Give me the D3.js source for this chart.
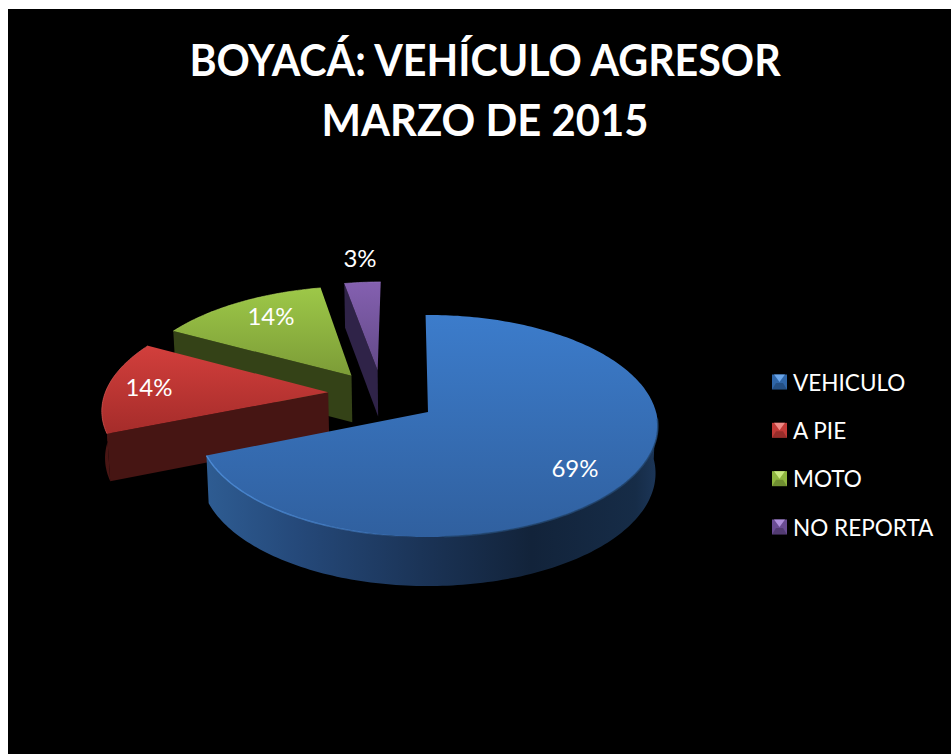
<!DOCTYPE html>
<html><head><meta charset="utf-8">
<script src="https://cdn.jsdelivr.net/npm/d3@7/dist/d3.min.js"></script>
<style>html,body{margin:0;padding:0;background:#fff;overflow:hidden}svg{display:block}text{font-family:Lato,Carlito,"Open Sans",sans-serif}</style>
</head><body><div id="c"></div>
<script>
const titleLines = ["BOYACÁ: VEHÍCULO AGRESOR", "MARZO DE 2015"];
const categories = ["VEHICULO", "A PIE", "MOTO", "NO REPORTA"];
const shares = [69, 14, 14, 3];
const labels = ["69%", "14%", "14%", "3%"];

const W = 951, H = 754;
const colorTop = [["#3c7ccb","#30609f"],["#d23f3c","#a52c2a"],["#9dc848","#7c9c37"],["#8460b0","#634a88"]];
const sideStops = [
  [["#2e5c92",0],["#25497a",.2],["#1a3254",.5],["#12233a",.72],["#162c47",.95],["#1c3658",1]],
  [["#7a2624",0],["#4a1614",.05],["#471412",.5],["#3f1110",1]],
  [["#3a4a1a",0],["#333f16",1]],
  [["#38285a",0],["#2c2048",1]]
];
const faceColor = ["#1a3254","#461513","#344217","#2f2348"];
const highlight = ["#4f8fdc","#e0605c","#b4d860","#9a7cc6"];
// world-space explosion of each slice on the pie plane
const explodeX = [0, -0.448, -0.35, -0.232];
const explodeY = [0, 0.185, 0.345, 0.40];
const labelPos = [[575,477],[149,396],[271,325],[360,267]];

const cx = 428, cy = 412, ax = 228, by = 109.3, k = 0.126, depth = 47;
function project(X, Y, z) {
  const w = 1 + k * Y;
  let x = ax * X / w, y = -by * Y / w;
  if (z) { x *= 0.99; y += depth - 2 * Y; }
  return [cx + x, cy + y];
}
const pie = d3.pie().sort(null).value(d => d).startAngle(-0.012).endAngle(2 * Math.PI - 0.012);
const arcs = pie(shares);
const line = d3.line().curve(d3.curveLinear);
function rim(i, a0, a1, z) {
  const n = Math.max(2, Math.ceil(Math.abs(a1 - a0) / 0.02));
  return d3.range(n + 1).map(j => {
    const t = a0 + (a1 - a0) * j / n;
    return project(Math.sin(t) + explodeX[i], Math.cos(t) + explodeY[i], z);
  });
}
const apex = (i, z) => project(explodeX[i], explodeY[i], z);

const svg = d3.select("#c").append("svg").attr("width", W).attr("height", H);
const defs = svg.append("defs");
svg.append("rect").attr("x", 8).attr("y", 9).attr("width", W - 8).attr("height", H - 9).attr("fill", "#000");

arcs.forEach((a, i) => {
  const pts = rim(i, a.startAngle, a.endAngle, false);
  const ys = pts.map(p => p[1]).concat(apex(i, false)[1]);
  const g = defs.append("linearGradient").attr("id", "top" + i).attr("gradientUnits", "userSpaceOnUse")
    .attr("x1", 0).attr("x2", 0).attr("y1", d3.min(ys)).attr("y2", d3.max(ys));
  g.append("stop").attr("offset", 0).attr("stop-color", colorTop[i][0]);
  g.append("stop").attr("offset", 1).attr("stop-color", colorTop[i][1]);
  const xs = pts.map(p => p[0]);
  const s = defs.append("linearGradient").attr("id", "side" + i).attr("gradientUnits", "userSpaceOnUse")
    .attr("x1", d3.min(xs)).attr("x2", d3.max(xs)).attr("y1", 0).attr("y2", 0);
  sideStops[i].forEach(st => s.append("stop").attr("offset", st[1]).attr("stop-color", st[0]));
});
const blur = defs.append("filter").attr("id", "soft");
blur.append("feGaussianBlur").attr("stdDeviation", 0.7);
const hl = defs.append("linearGradient").attr("id", "hl").attr("gradientUnits", "userSpaceOnUse")
  .attr("x1", 210).attr("x2", 420).attr("y1", 0).attr("y2", 0);
hl.append("stop").attr("offset", 0).attr("stop-color", highlight[0]).attr("stop-opacity", .9);
hl.append("stop").attr("offset", .6).attr("stop-color", highlight[0]).attr("stop-opacity", .6);
hl.append("stop").attr("offset", 1).attr("stop-color", highlight[0]).attr("stop-opacity", 0);

// back to front
d3.range(arcs.length).reverse().forEach(i => {
  const a = arcs[i], g = svg.append("g");
  const t = rim(i, a.startAngle, a.endAngle, false);
  if (i > 0) {
    g.append("path").attr("fill", faceColor[i])
      .attr("d", line([apex(i,false), t[0], rim(i,a.startAngle,a.startAngle+0.001,true)[0], apex(i,true)]) + "Z");
  }
  const lo = Math.max(a.startAngle, Math.PI / 2), hi = Math.min(a.endAngle, 3 * Math.PI / 2 + 0.15);
  if (hi > lo) {
    const up = rim(i, lo, hi, false), dn = rim(i, lo, hi, true).reverse();
    g.append("path").attr("fill", `url(#side${i})`).attr("d", line(up.concat(dn)) + "Z");
  }
  g.append("path").attr("fill", `url(#top${i})`).attr("d", line([apex(i,false)].concat(t)) + "Z");
  if (i === 0) {
    g.append("path").attr("fill","none").attr("stroke", "url(#hl)").attr("stroke-width",1.4).attr("filter","url(#soft)")
      .attr("d", line(rim(0, Math.PI * 0.98, a.endAngle, false)));
    g.append("path").attr("fill","none").attr("stroke", "#24466f").attr("stroke-width",1.6).attr("filter","url(#soft)").attr("opacity",.8)
      .attr("d", line(rim(0, Math.PI * 0.52, Math.PI * 0.98, false)));
  } else {
    g.append("path").attr("fill","none").attr("stroke", highlight[i]).attr("stroke-width",1).attr("filter","url(#soft)").attr("opacity",.6)
      .attr("d", line(t));
  }
});

labels.forEach((l, i) => {
  svg.append("text").attr("x", labelPos[i][0]).attr("y", labelPos[i][1]).attr("text-anchor","middle")
    .attr("font-size", 24).attr("fill", "#fff").text(l);
});

const titleScale = [0.936, 0.95];
titleLines.forEach((l, i) => {
  svg.append("text").attr("transform", `translate(485,${76 + i * 59.5}) scale(${titleScale[i]},1)`).attr("text-anchor","middle")
    .attr("font-size", 44).attr("font-weight", 700).attr("fill", "#fff").text(l);
});

// legend
const legY = d3.scalePoint().domain(categories).range([382, 527]);
const swatchFill = ["#2f66a8","#c23a37","#8fb63f","#6a4c93"], swatchTip = ["#6aa5e8","#ef8a86","#c9e880","#b090dc"];
categories.forEach((c, i) => {
  const y = legY(c), x = 772, s = 15, g = svg.append("g").attr("transform", `translate(${x},${y - 7.5})`);
  g.append("rect").attr("width", s).attr("height", s).attr("fill", swatchFill[i]);
  g.append("path").attr("d", line([[2,0],[s-2,0],[s/2,s/2]]) + "Z").attr("fill", swatchTip[i]);
  g.append("path").attr("d", line([[0,s],[s,s],[s-4,s/2+1],[4,s/2+1]]) + "Z").attr("fill", "#000").attr("opacity", .22);
  svg.append("text").attr("transform", `translate(793,${y + 8.5}) scale(0.94,1)`).attr("font-size", 24).attr("fill", "#fff").text(c);
});
</script></body></html>
